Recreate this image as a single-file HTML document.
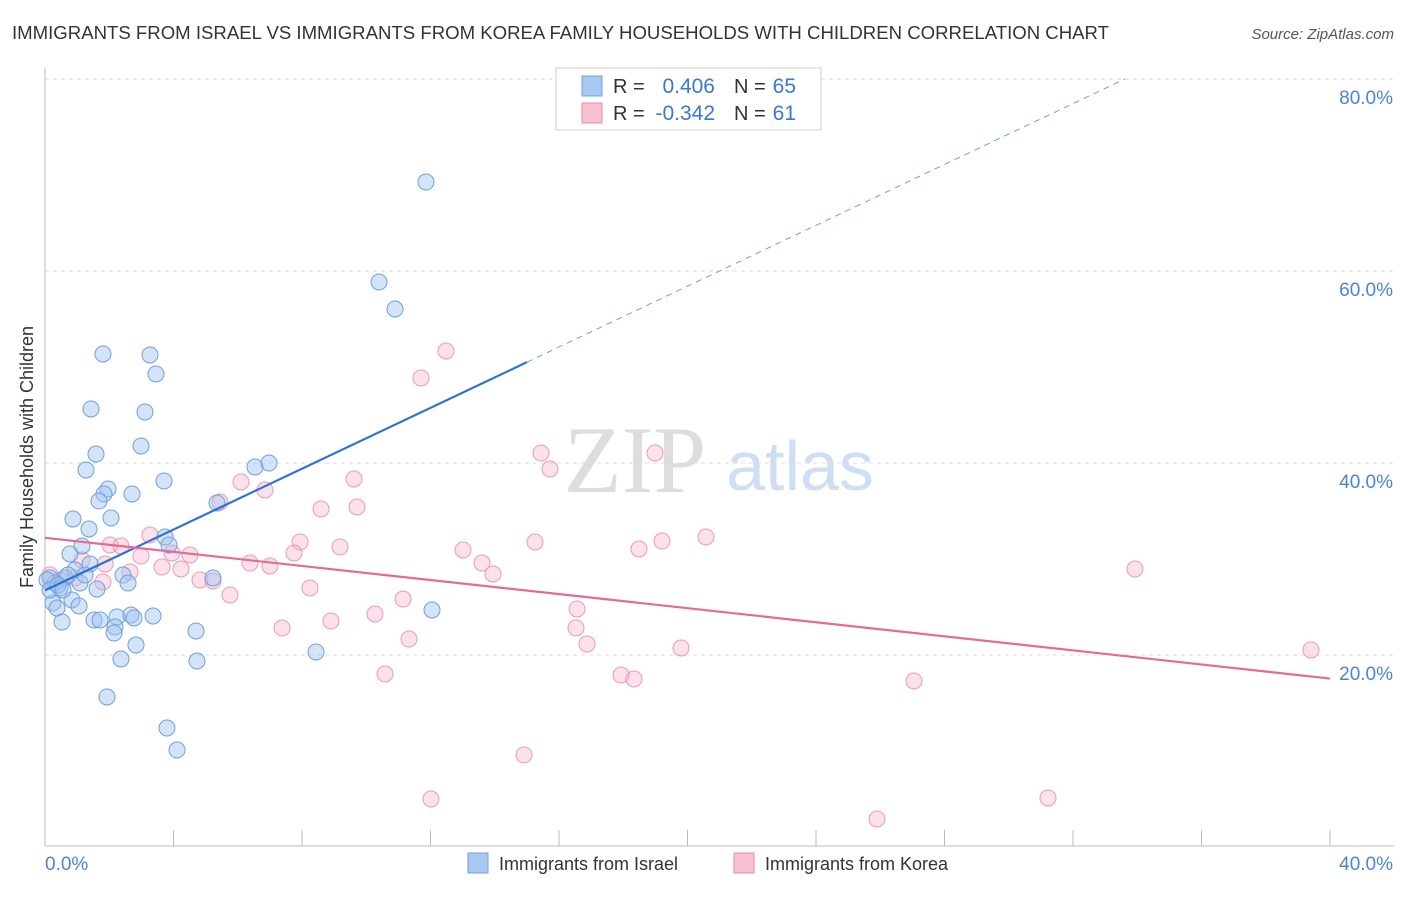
<!DOCTYPE html>
<html><head><meta charset="utf-8"><style>
body{margin:0;background:#fff;font-family:"Liberation Sans",sans-serif}
</style></head><body>
<svg id="c" width="1406" height="892" xmlns="http://www.w3.org/2000/svg">
<text x="12" y="39" font-size="18" fill="#333" textLength="1097" lengthAdjust="spacingAndGlyphs">IMMIGRANTS FROM ISRAEL VS IMMIGRANTS FROM KOREA FAMILY HOUSEHOLDS WITH CHILDREN CORRELATION CHART</text>
<text x="1394" y="39" font-size="15" fill="#555" text-anchor="end" font-style="italic">Source: ZipAtlas.com</text>
<text x="33" y="457" font-size="18" fill="#333" text-anchor="middle" transform="rotate(-90 33 457)">Family Households with Children</text>
<text x="635" y="492" font-size="95" fill="#ddd" text-anchor="middle" font-family="Liberation Serif,serif">ZIP</text>
<text x="800" y="490" font-size="70" fill="#cfdff3" text-anchor="middle">atlas</text>
<g id="grid"></g><g id="pts"></g>
<g>
<rect x="556" y="68" width="265" height="62" fill="#fff" stroke="#ccc"/>
<rect x="582" y="76" width="20" height="20" fill="#a9c8f0" stroke="#6fa0e0"/>
<rect x="582" y="103" width="20" height="20" fill="#f8c0d0" stroke="#e88aa8"/>
<text x="613" y="93" font-size="20" fill="#333">R =</text>
<text x="715" y="93" font-size="21" fill="#3a78d0" text-anchor="end">0.406</text>
<text x="734" y="93" font-size="20" fill="#333">N =</text>
<text x="796" y="93" font-size="21" fill="#3a78d0" text-anchor="end">65</text>
<text x="613" y="120" font-size="20" fill="#333">R =</text>
<text x="715" y="120" font-size="21" fill="#3a78d0" text-anchor="end">-0.342</text>
<text x="734" y="120" font-size="20" fill="#333">N =</text>
<text x="796" y="120" font-size="21" fill="#3a78d0" text-anchor="end">61</text>
</g>
<g>
<rect x="468" y="853" width="20" height="20" fill="#a9c8f0" stroke="#6fa0e0"/>
<text x="499" y="870" font-size="18" fill="#333">Immigrants from Israel</text>
<rect x="734" y="853" width="20" height="20" fill="#f8c0d0" stroke="#e88aa8"/>
<text x="765" y="870" font-size="18" fill="#333">Immigrants from Korea</text>
</g>
</svg>
<script>
const yTicks=[20,40,60,80];
const xTickLabels=["0.0%","40.0%"];
const israelX=[426,379,395,103,150,156,91,145,141,96,86,164,255,269,108,104,132,99,217,73,111,89,165,169,82,70,90,123,213,128,75,65,55,50,60,97,80,53,72,79,57,62,94,100,117,131,134,153,115,114,196,136,432,316,121,197,107,167,177,47,50,68,58,85,63];
const israelY=[182,282,309,354,355,374,409,412,446,454,470,481,467,463,489,494,494,501,503,519,518,529,537,545,546,554,564,575,578,583,570,578,583,578,588,589,583,603,600,606,608,622,620,620,617,615,618,616,627,633,631,645,610,652,659,661,697,728,750,580,590,575,585,575,590];
const koreaX=[446,421,541,655,550,354,241,265,220,357,321,150,706,535,300,340,662,463,639,110,121,172,141,190,82,105,294,250,270,482,493,162,181,130,200,310,213,230,103,403,577,375,331,282,576,409,587,681,1135,1311,621,634,385,914,524,431,1048,877,50,60,75];
const koreaY=[351,378,453,453,469,479,482,490,502,507,509,535,537,542,542,547,541,550,549,545,546,553,556,555,560,564,553,563,566,563,574,567,569,572,580,588,581,595,582,599,609,614,621,628,628,639,644,648,569,650,675,679,674,681,755,799,798,819,575,580,578];
const toX=v=>45+v/40*1285, toY=v=>847-v/80*768;
const fromX=p=>(p-45)/1285*40, fromY=p=>(847-p)/768*80;
const israel=israelX.map((x,i)=>[fromX(x),fromY(israelY[i])]);
const korea=koreaX.map((x,i)=>[fromX(x),fromY(koreaY[i])]);
const NS="http://www.w3.org/2000/svg";
function mk(t,a,p){const e=document.createElementNS(NS,t);for(const k in a)e.setAttribute(k,a[k]);p.appendChild(e);return e;}
const g=document.getElementById('grid');
yTicks.forEach(v=>{
 const l=mk('line',{x1:45,x2:1394,y1:toY(v),y2:toY(v),stroke:'#ddd','stroke-dasharray':'4,4'},g);
 
 
 const t=mk('text',{x:1393,y:toY(v)+25,'font-size':19,fill:'#4a84d8','text-anchor':'end'},g);t.textContent=v.toFixed(1)+'%';
 
 
});
mk('line',{x1:45,x2:45,y1:68,y2:846,stroke:'#bbb'},g);
mk('line',{x1:45,x2:1394,y1:846,y2:846,stroke:'#bbb'},g);
for(let i=1;i<=10;i++){mk('line',{x1:45+i*128.5,x2:45+i*128.5,y1:830,y2:846,stroke:'#bbb'},g);}
const t0=mk('text',{x:45,y:870,'font-size':19,fill:'#4a84d8'},g);t0.textContent=xTickLabels[0];


const t1=mk('text',{x:1393,y:870,'font-size':19,fill:'#4a84d8','text-anchor':'end'},g);t1.textContent=xTickLabels[1];


function fit(d){const n=d.length;let mx=0,my=0;d.forEach(p=>{mx+=p[0];my+=p[1]});mx/=n;my/=n;let sxy=0,sxx=0;d.forEach(p=>{sxy+=(p[0]-mx)*(p[1]-my);sxx+=(p[0]-mx)**2});const b=sxy/sxx;return [b,my-b*mx];}
const P=document.getElementById('pts');
korea.forEach(p=>{const c=mk('circle',{cx:toX(p[0]),cy:toY(p[1]),r:8,fill:'rgba(245,170,195,0.35)',stroke:'#eb9ab4','stroke-width':1},P);
 
 });
israel.forEach(p=>{const c=mk('circle',{cx:toX(p[0]),cy:toY(p[1]),r:8,fill:'rgba(160,195,240,0.45)',stroke:'#6fa0e0','stroke-width':1},P);
 
 });
const [bi,ai]=fit(israel), [bk,ak]=fit(korea);
const xe=fromX(527), xd=Math.min(40,(80-ai)/bi);
const li=mk('line',{x1:toX(0),y1:toY(ai),x2:toX(xe),y2:toY(ai+bi*xe),stroke:'#2f72d6','stroke-width':2.2},P);


const ld=mk('line',{x1:toX(xe),y1:toY(ai+bi*xe),x2:toX(xd),y2:toY(ai+bi*xd),stroke:'#6fa0e0','stroke-width':1,'stroke-dasharray':'6,5'},P);


const lk=mk('line',{x1:toX(0),y1:toY(ak),x2:toX(40),y2:toY(ak+bk*40),stroke:'#e56a98','stroke-width':2.2},P);


</script>
</body></html>
